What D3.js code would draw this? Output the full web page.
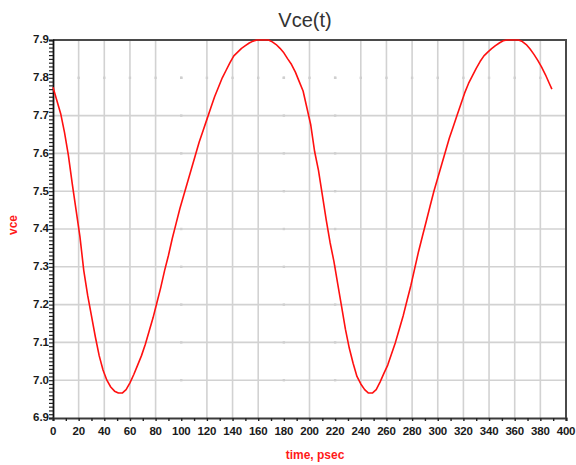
<!DOCTYPE html>
<html lang="en">
<head>
<meta charset="UTF-8">
<title>Vce(t)</title>
<script src="https://d3js.org/d3.v7.min.js"></script>
<style>
    body { margin: 0; background: #fff; }
    svg { display: block; font-family: "Liberation Sans", Arial, sans-serif; }
    .grid line { stroke: #d2d2d2; stroke-width: 1.6; }
    .tick-label { font-size: 11.5px; font-weight: bold; fill: #1a1a1a; }
</style>
</head>
<body>
<script>
    // time (psec) and Vce (V)
    const timePs = [0, 3, 6, 9, 12, 15, 18, 21, 24, 27, 30, 33, 36, 39, 42, 45, 48, 51, 54, 57,
        60, 63, 66, 69, 72, 75, 78, 81, 84, 87, 90, 93, 96, 99, 102, 105, 108, 111, 114, 117,
        120, 123, 126, 129, 132, 135, 138, 141, 144, 147, 150, 153, 156, 159, 162, 165, 168, 171, 174, 177,
        180, 183, 186, 189, 192, 195, 198, 201, 204, 207, 210, 213, 216, 219, 222, 225, 228, 231, 234, 237,
        240, 243, 246, 249, 252, 255, 258, 261, 264, 267, 270, 273, 276, 279, 282, 285, 288, 291, 294, 297,
        300, 303, 306, 309, 312, 315, 318, 321, 324, 327, 330, 333, 336, 339, 342, 345, 348, 351, 354, 357,
        360, 363, 366, 369, 372, 375, 378, 381, 384, 387, 389];
    const vce = [7.775, 7.74, 7.705, 7.655, 7.595, 7.52, 7.45, 7.38, 7.29, 7.225, 7.17, 7.115, 7.065, 7.027, 7.0, 6.982, 6.971, 6.966, 6.966, 6.975,
        6.993, 7.015, 7.04, 7.065, 7.095, 7.13, 7.165, 7.205, 7.245, 7.29, 7.33, 7.375, 7.415, 7.455, 7.49, 7.525, 7.56, 7.595, 7.63, 7.66,
        7.69, 7.72, 7.75, 7.775, 7.80, 7.82, 7.84, 7.858, 7.868, 7.878, 7.885, 7.892, 7.897, 7.9, 7.9, 7.9, 7.9, 7.895, 7.888, 7.878,
        7.866, 7.85, 7.835, 7.815, 7.79, 7.765, 7.72, 7.675, 7.605, 7.555, 7.49, 7.425, 7.365, 7.315, 7.255, 7.195, 7.135, 7.085, 7.045, 7.01,
        6.99, 6.975, 6.966, 6.966, 6.975, 6.995, 7.018, 7.04, 7.07, 7.10, 7.135, 7.17, 7.21, 7.25, 7.295, 7.34, 7.38, 7.42, 7.46, 7.50,
        7.535, 7.57, 7.605, 7.64, 7.67, 7.70, 7.73, 7.76, 7.785, 7.805, 7.825, 7.843, 7.858, 7.868, 7.877, 7.885, 7.892, 7.898, 7.9, 7.9,
        7.9, 7.9, 7.896, 7.888, 7.876, 7.862, 7.846, 7.828, 7.808, 7.785, 7.77];

    const xTicks = d3.range(0, 401, 20);
    const yTicks = [6.9, 7.0, 7.1, 7.2, 7.3, 7.4, 7.5, 7.6, 7.7, 7.8, 7.9];
    const yTickLabels = ["6.9", "7.0", "7.1", "7.2", "7.3", "7.4", "7.5", "7.6", "7.7", "7.8", "7.9"];
    // grid lines that show up only as faint dots in the picture
    const fadedX = [100, 180, 220];
    const fadedY = [7.8];

    const width = 576, height = 465;
    const plotL = 53, plotR = 566, plotT = 40, plotB = 418;

    const x = d3.scaleLinear().domain([0, 400]).range([plotL, plotR]);
    const y = d3.scaleLinear().domain([6.9, 7.9]).range([plotB, plotT]);

    const svg = d3.select("body").append("svg")
        .attr("width", width).attr("height", height);

    // grid
    const grid = svg.append("g").attr("class", "grid");
    grid.selectAll(".vx").data(xTicks.filter(d => d > 0 && d < 400 && !fadedX.includes(d)))
        .join("line")
        .attr("x1", d => x(d)).attr("x2", d => x(d))
        .attr("y1", plotT).attr("y2", plotB);
    grid.selectAll(".hy").data(yTicks.filter(d => d > 6.95 && d < 7.85 && !fadedY.some(f => Math.abs(f - d) < 1e-6)))
        .join("line")
        .attr("x1", plotL).attr("x2", plotR)
        .attr("y1", d => y(d)).attr("y2", d => y(d));

    // dots where faded lines cross the others
    const dots = [];
    fadedX.forEach(fx => yTicks.forEach(ty => dots.push([fx, ty])));
    fadedY.forEach(fy => xTicks.forEach(tx => dots.push([tx, fy])));
    grid.selectAll("rect").data(dots.filter(d => d[0] > 0 && d[0] < 400 && d[1] > 6.95 && d[1] < 7.85))
        .join("rect")
        .attr("x", d => x(d[0]) - 1.2).attr("y", d => y(d[1]) - 1.2)
        .attr("width", 2.4).attr("height", 2.4)
        .attr("fill", "#cfcfcf");

    // frame (top and right)
    svg.append("path")
        .attr("d", `M${plotL},${plotT}H${plotR}V${plotB}`)
        .attr("fill", "none").attr("stroke", "#4a4a4a").attr("stroke-width", 2);

    // left axis with minor ticks every 0.01
    const axisY = d3.axisLeft(y)
        .tickValues(d3.range(690, 791).map(d => d / 100))
        .tickSize(4)
        .tickFormat("");
    const gy = svg.append("g").attr("transform", `translate(${plotL},0)`).call(axisY);
    gy.select(".domain").attr("stroke", "#111").attr("stroke-width", 1.8);
    gy.selectAll(".tick line").attr("stroke", "#222").attr("stroke-width", 1.2);
    svg.append("g").selectAll("text").data(yTicks)
        .join("text")
        .attr("class", "tick-label")
        .attr("x", plotL - 4)
        .attr("y", d => y(d))
        .attr("dy", "0.3em")
        .attr("text-anchor", "end")
        .attr("font-size", "10.5px")
        .attr("fill", "#333")
        .text((d, i) => yTickLabels[i]);

    // bottom axis with minor ticks every 10
    const axisX = d3.axisBottom(x)
        .tickValues(d3.range(0, 401, 10))
        .tickSize(3)
        .tickFormat("");
    const gx = svg.append("g").attr("transform", `translate(0,${plotB})`).call(axisX);
    gx.select(".domain").attr("stroke", "#3a3a3a").attr("stroke-width", 2.2);
    gx.selectAll(".tick line").attr("stroke", "#222").attr("stroke-width", 1.4);
    svg.append("g").selectAll("text").data(xTicks)
        .join("text")
        .attr("class", "tick-label")
        .attr("x", d => x(d))
        .attr("y", plotB + 17)
        .attr("text-anchor", "middle")
        .attr("letter-spacing", "-0.2px")
        .text(d => d);

    // trace
    const line = d3.line().x((d, i) => x(timePs[i])).y(d => y(d));
    svg.append("path")
        .datum(vce)
        .attr("d", line)
        .attr("fill", "none")
        .attr("stroke", "#ff1010")
        .attr("stroke-width", 1.6)
        .attr("stroke-linejoin", "round");

    // titles
    svg.append("text")
        .attr("x", 305).attr("y", 27)
        .attr("text-anchor", "middle")
        .attr("font-size", "20px")
        .attr("fill", "#333")
        .text("Vce(t)");

    svg.append("text")
        .attr("x", 315).attr("y", 459)
        .attr("text-anchor", "middle")
        .attr("font-size", "12px")
        .attr("font-weight", "bold")
        .attr("fill", "#ff1a1a")
        .text("time, psec");

    svg.append("text")
        .attr("transform", "translate(17,225) rotate(-90)")
        .attr("text-anchor", "middle")
        .attr("font-size", "12px")
        .attr("font-weight", "bold")
        .attr("fill", "#ff1a1a")
        .text("vce");
</script>
</body>
</html>
